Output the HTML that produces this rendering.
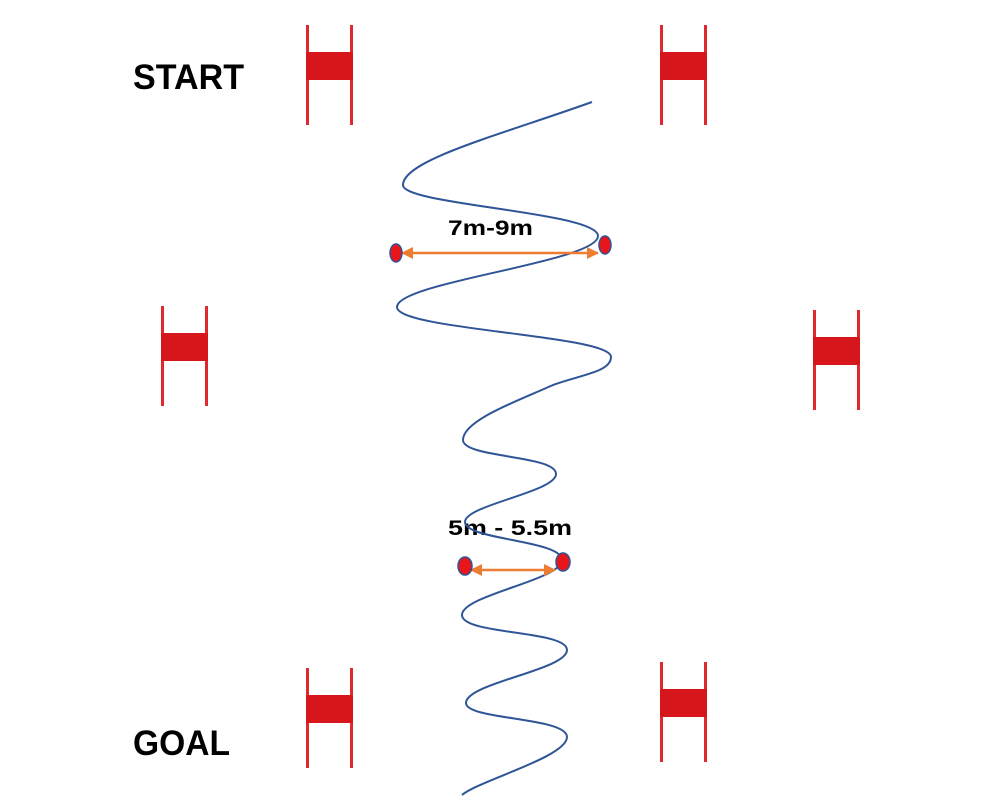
<!DOCTYPE html>
<html><head><meta charset="utf-8"><style>html,body{margin:0;padding:0;background:#fff}</style></head>
<body>
<svg width="1000" height="800" viewBox="0 0 1000 800" xmlns="http://www.w3.org/2000/svg">
<defs>
<g id="gate">
<rect x="0" y="0" width="3" height="100" fill="#e0292e"/>
<rect x="44" y="0" width="3" height="100" fill="#e0292e"/>
<rect x="0" y="27" width="47" height="28" fill="#d7161b"/>
</g>
<marker id="ah" markerWidth="12" markerHeight="12" refX="11" refY="6" orient="auto-start-reverse" markerUnits="userSpaceOnUse">
<path d="M0,0 L12,6 L0,12 z" fill="#ed7d31"/>
</marker>
</defs>
<use href="#gate" x="306" y="25"/>
<use href="#gate" x="660" y="25"/>
<use href="#gate" x="161" y="306"/>
<use href="#gate" x="813" y="310"/>
<use href="#gate" x="306" y="668"/>
<use href="#gate" x="660" y="662"/>
<g font-family="Liberation Sans, sans-serif" font-weight="bold" fill="#000">
<text x="133" y="89" font-size="35" textLength="111" lengthAdjust="spacingAndGlyphs">START</text>
<text x="133" y="755" font-size="35" textLength="97" lengthAdjust="spacingAndGlyphs">GOAL</text>
<text x="448" y="235" font-size="21" textLength="85" lengthAdjust="spacingAndGlyphs">7m-9m</text>
<text x="448" y="535" font-size="21" textLength="124" lengthAdjust="spacingAndGlyphs">5m - 5.5m</text>
</g>
<path fill="none" stroke="#2f5597" stroke-width="2" d="M592,102 C500,135 403,160 403,185 C403,205 598,212 598,236 C598,262 397,282 397,307 C397,330 611,335 611,357 C611,372 580,375 553,385 C520,400 463,420 463,440 C463,458 556,455 556,474 C556,492 465,505 465,522 C465,540 562,540 562,560 C562,580 462,595 462,615 C462,635 567,630 567,650 C567,670 466,683 466,703 C466,720 567,717 567,737 C567,757 480,780 462,795"/>
<line x1="402" y1="253" x2="598" y2="253" stroke="#ed7d31" stroke-width="2.5" marker-start="url(#ah)" marker-end="url(#ah)"/>
<line x1="471" y1="570" x2="555" y2="570" stroke="#ed7d31" stroke-width="2.5" marker-start="url(#ah)" marker-end="url(#ah)"/>
<g fill="#e8151b" stroke="#2f5597" stroke-width="1.5">
<ellipse cx="396" cy="253" rx="6" ry="9"/>
<ellipse cx="605" cy="245" rx="6" ry="9"/>
<ellipse cx="465" cy="566" rx="7" ry="9"/>
<ellipse cx="563" cy="562" rx="7" ry="9"/>
</g>
</svg>
</body></html>
